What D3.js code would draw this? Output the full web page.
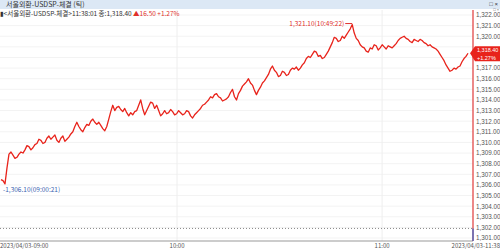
<!DOCTYPE html>
<html>
<head>
<meta charset="utf-8">
<script src="https://cdn.jsdelivr.net/npm/d3@7"></script>
<style>
  body { margin: 0; background: #fff; }
  svg { display: block; font-family: 'Noto Sans CJK KR', 'DejaVu Sans', sans-serif; }
  .num { font-family: 'Liberation Sans', Arial, sans-serif; }
</style>
</head>
<body>
<div id="chart"></div>
<script>
const prices = [
  1306.5, 1306.4, 1306.1, 1307.6, 1308.9, 1309.1, 1308.8, 1308.5, 1308.6, 1308.9,
  1309.1, 1309.0, 1309.3, 1309.7, 1309.6, 1309.3, 1309.5, 1309.8, 1309.9, 1310.3,
  1310.2, 1309.9, 1310.0, 1310.4, 1310.6, 1310.3, 1310.5, 1310.7, 1310.2, 1310.0,
  1310.4, 1310.6, 1310.1, 1310.3, 1310.5, 1310.8, 1311.0, 1311.5, 1311.9, 1311.5,
  1311.2, 1311.0, 1311.4, 1311.7, 1311.6, 1312.0, 1312.2, 1311.9, 1311.7, 1311.9,
  1311.6, 1311.3, 1311.1, 1311.5, 1312.2, 1312.9, 1313.5, 1313.0, 1313.3, 1313.4,
  1313.1, 1312.9, 1313.2, 1312.8, 1312.5, 1312.8, 1312.6, 1312.9, 1313.0, 1313.5,
  1314.0, 1313.2, 1312.6, 1313.0, 1313.4, 1313.8, 1313.7, 1313.2, 1313.5, 1313.0,
  1312.5, 1312.7, 1313.0, 1312.7, 1312.8, 1313.1, 1312.9, 1312.6, 1312.7, 1313.0,
  1312.8, 1312.6, 1312.7, 1313.0, 1312.9, 1312.5, 1312.3, 1312.6, 1312.8, 1313.0,
  1313.2, 1313.5, 1313.6, 1313.8, 1314.0, 1314.3, 1314.2, 1314.5, 1314.6, 1314.3,
  1314.2, 1313.9, 1314.0, 1314.1, 1314.3, 1314.7, 1315.0, 1314.3, 1314.0, 1314.6,
  1314.9, 1315.3, 1315.5, 1315.7, 1316.0, 1315.6, 1315.4, 1314.9, 1314.5, 1314.9,
  1315.2, 1315.6, 1315.8, 1316.1, 1316.4, 1316.9, 1317.2, 1316.8, 1316.6, 1316.2,
  1316.3, 1316.7, 1316.6, 1316.3, 1316.4, 1316.8, 1317.0, 1316.9, 1317.1, 1316.8,
  1317.0, 1317.3, 1317.5, 1317.9, 1318.1, 1318.0, 1318.3, 1318.6, 1318.5, 1318.1,
  1318.2, 1317.9, 1318.0, 1318.3, 1318.6, 1319.0, 1319.4, 1319.9, 1319.8, 1319.5,
  1319.6, 1320.0, 1319.8, 1320.1, 1320.4, 1320.7, 1321.1, 1320.3, 1319.8, 1319.6,
  1319.2, 1319.0, 1318.9, 1318.6, 1318.5, 1318.9, 1318.8, 1319.2, 1319.1, 1318.7,
  1318.9, 1319.2, 1319.0, 1318.8, 1319.1, 1319.0, 1318.9, 1319.1, 1319.3, 1319.6,
  1319.8, 1319.9, 1320.0, 1319.8, 1319.7, 1319.5, 1319.4, 1319.7, 1319.6, 1319.5,
  1319.7, 1319.6, 1319.4, 1319.3, 1319.1, 1319.2, 1319.0, 1318.9, 1318.8, 1318.6,
  1318.3, 1318.0, 1317.7, 1317.3, 1317.0, 1316.7, 1316.8, 1317.0, 1316.9, 1317.1,
  1317.2, 1317.6, 1317.9, 1318.1, 1318.4
];
const yTicks = d3.range(1301, 1323);
const prevClose = 1301.9;
// share of the session's ticks done at each time label
const timeLabels = [
  { share: 0, text: '2023/04/03-09:00', anchor: 'start' },
  { share: 0.377, text: '10:00', anchor: 'middle' },
  { share: 0.816, text: '11:00', anchor: 'middle' }
];
const lastTime = '2023/04/03-11:38';
const titleText = '서울외환-USDSP-체결 (틱)';
const infoText = '<서울외환-USDSP-체결>11:38:01 종:1,318.40';
const changeText = '▲16.50 +1.27%';
const maxLabel = '1,321.10(10:49:22)';
const minLabel = '1,306.10(09:00:21)';
const pctText = '+1.27%';

const W = 500, H = 250;
const plot = { left: 0, right: 473, top: 10, bottom: 241 };
const fmt = d3.format(',.2f');
const n = prices.length;

const svg = d3.select('#chart').append('svg')
  .attr('width', W).attr('height', H);

// title bar
svg.append('rect').attr('x', 0).attr('y', 0).attr('width', W).attr('height', 9)
  .attr('fill', '#dce8f5');
svg.append('text').attr('x', 6).attr('y', 7).attr('font-size', 7).attr('fill', '#333')
  .text(titleText);
svg.append('text').attr('class', 'num').attr('x', 498).attr('y', 6).attr('text-anchor', 'end')
  .attr('font-size', 6).attr('fill', '#334').text('□ ×');

const x = d3.scaleLinear().domain([0, n - 1]).range([1, 468]);
const y = d3.scaleLinear().domain([1301, 1322]).range([238, 15]);

// grid
svg.append('g').selectAll('line').data(yTicks).join('line')
  .attr('x1', plot.left).attr('x2', plot.right)
  .attr('y1', d => y(d)).attr('y2', d => y(d))
  .attr('stroke', '#f3f3f3').attr('stroke-width', 1);
svg.append('g').selectAll('line').data(timeLabels.slice(1)).join('line')
  .attr('x1', d => x(d.share * (n - 1))).attr('x2', d => x(d.share * (n - 1)))
  .attr('y1', plot.top).attr('y2', plot.bottom)
  .attr('stroke', '#eeeeee');

// previous close
svg.append('line').attr('x1', 0).attr('x2', plot.right)
  .attr('y1', y(prevClose)).attr('y2', y(prevClose))
  .attr('stroke', '#888').attr('stroke-dasharray', '1,2');

// info line
const info = svg.append('text').attr('x', 0).attr('y', 15.5).attr('font-size', 6.5);
info.append('tspan').attr('fill', '#333').text('▮' + infoText + ' ');
info.append('tspan').attr('fill', '#e0302a').text(changeText);

// price line
svg.append('path').datum(prices)
  .attr('d', d3.line().x((d, i) => x(i)).y(d => y(d)))
  .attr('fill', 'none').attr('stroke', '#e8231b').attr('stroke-width', 1.3)
  .attr('stroke-linejoin', 'round');

// max / min markers
const iMax = d3.maxIndex(prices), iMin = d3.minIndex(prices);
svg.append('line').attr('x1', x(iMax) - 7).attr('x2', x(iMax))
  .attr('y1', y(prices[iMax]) - 1).attr('y2', y(prices[iMax]) - 1).attr('stroke', '#e0302a');
svg.append('text').attr('x', x(iMax) - 8).attr('y', y(prices[iMax]) + 1)
  .attr('text-anchor', 'end').attr('font-size', 6.5).attr('fill', '#e0302a').text(maxLabel);
svg.append('text').attr('x', x(iMin) - 2).attr('y', y(prices[iMin]) + 8)
  .attr('font-size', 6.5).attr('fill', '#3a5fb0').text('-' + minLabel);

// bottom axis
svg.append('line').attr('x1', 0).attr('x2', plot.right)
  .attr('y1', plot.bottom).attr('y2', plot.bottom).attr('stroke', '#999');
svg.append('g').selectAll('text').data(timeLabels).join('text')
  .attr('x', d => x(d.share * (n - 1)) - (d.anchor === 'start' ? 1 : 0)).attr('y', 248)
  .attr('text-anchor', d => d.anchor).attr('font-size', 6).attr('fill', '#555')
  .text(d => d.text);
svg.append('text').attr('x', 500).attr('y', 248).attr('text-anchor', 'end')
  .attr('font-size', 6).attr('fill', '#555').text(lastTime);

// right axis
const last = prices[n - 1];
svg.append('line').attr('x1', plot.right).attr('x2', plot.right)
  .attr('y1', plot.top).attr('y2', plot.bottom).attr('stroke', '#e03a3a').attr('stroke-width', 1.2);
svg.append('line').attr('x1', plot.right).attr('x2', plot.right)
  .attr('y1', y(prevClose)).attr('y2', plot.bottom).attr('stroke', '#3366cc').attr('stroke-width', 1.2);
svg.append('g').selectAll('text')
  .data(yTicks.filter(d => Math.abs(y(d) - y(last)) > 7))
  .join('text')
  .attr('class', 'num')
  .attr('x', 476).attr('y', d => y(d) + 2.4)
  .attr('font-size', 6.3).attr('fill', '#555')
  .text(d => fmt(d));
svg.append('text').attr('class', 'num').attr('x', 499).attr('y', 11.1).attr('text-anchor', 'end')
  .attr('font-size', 4).attr('fill', '#666').text('□ ×');

// current price tag
const tag = svg.append('g').attr('transform', `translate(0,${y(last)})`);
tag.append('path').attr('d', 'M470,0 L475,-7 L500,-7 L500,8 L475,8 Z').attr('fill', '#e8231b');
tag.append('text').attr('class', 'num').attr('x', 477).attr('y', -1.2).attr('font-size', 5.5)
  .attr('fill', '#fff').text(fmt(last));
tag.append('text').attr('class', 'num').attr('x', 477).attr('y', 6.3).attr('font-size', 5.5)
  .attr('fill', '#fff').text(pctText);
</script>
</body>
</html>
